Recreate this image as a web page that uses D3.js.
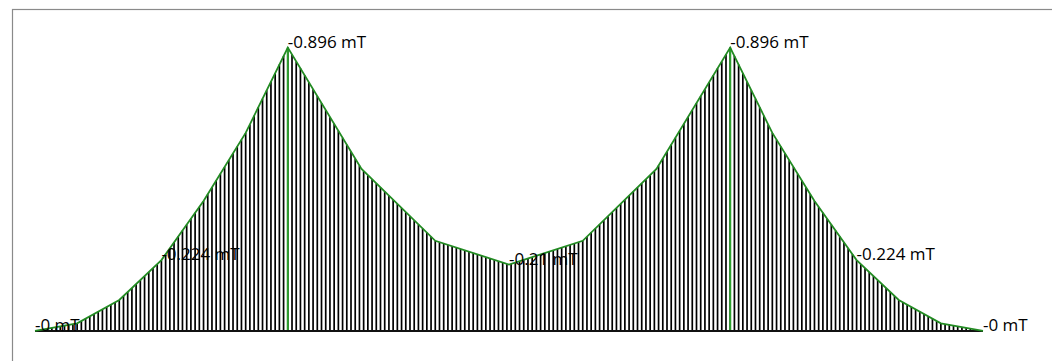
<!DOCTYPE html>
<html><head><meta charset="utf-8">
<script src="https://cdn.jsdelivr.net/npm/d3@7"></script>
<style>html,body{margin:0;padding:0;background:#fff;overflow:hidden}svg{display:block}</style>
</head><body>
<svg id="c" width="1052" height="361"></svg>
<script>
// positions along the profile (units) and field values (mT)
const positions = [0,10,20,30,40,50,60,77.5,95,112.5,130,147.5,165,175,185,195,205,215,225];
const values = [-0.0001,-0.024,-0.098,-0.224,-0.411,-0.626,-0.896,-0.512,-0.285,-0.21,-0.285,-0.512,-0.896,-0.626,-0.411,-0.224,-0.098,-0.024,-0.0001];
const labelEvery = 3;
const unit = "mT";

const svg = d3.select("#c");
const x = d3.scaleLinear().domain([0,225]).range([35,983]);
const y = d3.scaleLinear().domain([0,0.896]).range([331,47.5]);
const profile = d3.scaleLinear().domain(positions).range(values.map(v=>Math.abs(v)));

// frame
svg.append("rect").attr("x",12.5).attr("y",9.5).attr("width",1100).attr("height",400)
  .attr("fill","none").attr("stroke","#8a8a8a").attr("stroke-width",1.2);

// hatch
const hatch = d3.range(0, 226, 1);
const maxV = d3.max(values, v=>Math.abs(v));
svg.append("g").selectAll("line").data(hatch).join("line")
  .attr("x1",d=>x(d)).attr("x2",d=>x(d))
  .attr("y1",y(0)).attr("y2",d=>y(profile(d)))
  .attr("stroke","#000").attr("stroke-width",1.7);

// peak markers
const peaks = positions.filter((p,i)=>Math.abs(values[i])===maxV);
svg.append("g").selectAll("line").data(peaks).join("line")
  .attr("x1",d=>x(d)).attr("x2",d=>x(d))
  .attr("y1",y(0)).attr("y2",d=>y(profile(d)))
  .attr("stroke","#2ca02c").attr("stroke-width",2);

// baseline
svg.append("line").attr("x1",x(0)).attr("x2",x(225)).attr("y1",y(0)).attr("y2",y(0))
  .attr("stroke","#111").attr("stroke-width",2);

// outline
const pts = positions.map((p,i)=>[p,Math.abs(values[i])]);
svg.append("path").datum(pts)
  .attr("d", d3.line().x(d=>x(d[0])).y(d=>y(d[1])))
  .attr("fill","none").attr("stroke","#228b22").attr("stroke-width",1.8);

// labels
function fmt(v){ const r = Math.round(Math.abs(v)*1000)/1000; return (v<0?"-":"")+String(r)+" "+unit; }
svg.append("g").selectAll("text").data(pts.filter((d,i)=>i%labelEvery===0)).join("text")
  .attr("x",d=>x(d[0])).attr("y",d=>y(d[1]))
  .attr("font-family","'Open Sans', sans-serif").attr("font-size",17).attr("fill","#000")
  .text((d,i)=>fmt(values[i*labelEvery]));
</script>
</body></html>
